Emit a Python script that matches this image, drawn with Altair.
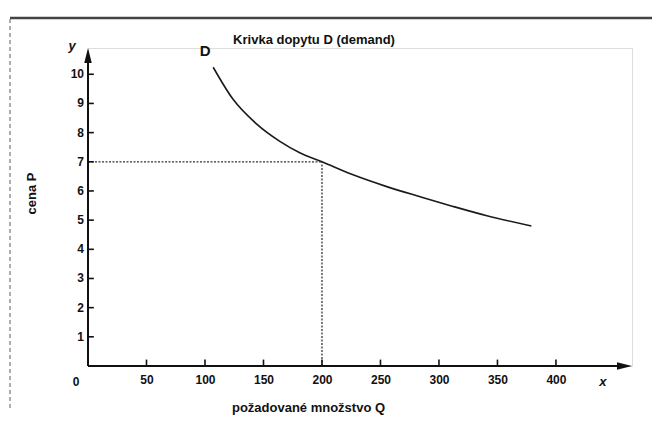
import altair as alt
import pandas as pd

# demand curve
quantity = [107, 124, 144, 164, 181, 200, 226, 256, 284, 312, 341, 379]
price = [10.24, 9.14, 8.30, 7.70, 7.31, 7.00, 6.56, 6.14, 5.80, 5.47, 5.15, 4.80]

x_ticks = [50, 100, 150, 200, 250, 300, 350, 400]
y_ticks = [1, 2, 3, 4, 5, 6, 7, 8, 9, 10]
point_q = 200
point_p = 7
x_max = 465
y_max = 10.9

title_text = "Krivka dopytu D (demand)"
x_title = "požadované množstvo Q"
y_title = "cena P"

FONT = "Liberation Sans, Arial, sans-serif"
INK = "#111111"

curve_df = pd.DataFrame({"q": quantity, "p": price})

xs = alt.Scale(domain=[0, x_max], nice=False, zero=True)
ys = alt.Scale(domain=[0, y_max], nice=False, zero=True)

x_axis = alt.Axis(
    values=x_ticks, title=x_title, domain=False, ticks=False, grid=False,
    labelOverlap=False, labelPadding=8, labelFont=FONT, labelFontSize=12,
    labelFontWeight="bold", labelColor=INK, titleFont=FONT, titleFontSize=13,
    titleFontWeight="bold", titleColor=INK, titleX=220, titleY=41,
    titleBaseline="middle", titleAnchor="middle", titleAlign="center",
)
y_axis = alt.Axis(
    values=y_ticks, title=y_title, domain=False, ticks=False, grid=False,
    labels=False, titleFont=FONT, titleFontSize=13, titleFontWeight="bold",
    titleColor=INK, titleX=-57, titleY=145, titleAngle=270,
    titleBaseline="middle", titleAlign="center",
)

curve = alt.Chart(curve_df).mark_line(
    color="#1a1a1a", strokeWidth=1.6, interpolate="monotone"
).encode(
    x=alt.X("q:Q", scale=xs, axis=x_axis),
    y=alt.Y("p:Q", scale=ys, axis=y_axis),
)

first_df = pd.DataFrame({"q": [quantity[0]], "p": [price[0]], "t": ["D"]})
d_label = alt.Chart(first_df).mark_text(
    font=FONT, fontSize=15, fontWeight="bold", color=INK, dx=-8, dy=-16
).encode(x="q:Q", y="p:Q", text="t:N")

# dotted guides
h_df = pd.DataFrame({"q0": [0], "q1": [point_q], "p": [point_p]})
h_guide = alt.Chart(h_df).mark_rule(
    color="#333333", strokeWidth=1.3, strokeDash=[2, 1.5]
).encode(x="q0:Q", x2="q1:Q", y="p:Q")
v_df = pd.DataFrame({"q": [point_q], "p0": [0], "p1": [point_p]})
v_guide = alt.Chart(v_df).mark_rule(
    color="#333333", strokeWidth=1.3, strokeDash=[2, 1.5]
).encode(x="q:Q", y="p0:Q", y2="p1:Q")

# axis lines
xa_df = pd.DataFrame({"q0": [0], "q1": [x_max - 6], "p": [0]})
x_line = alt.Chart(xa_df).mark_rule(color=INK, strokeWidth=2.2).encode(
    x="q0:Q", x2="q1:Q", y="p:Q")
ya_df = pd.DataFrame({"q": [0], "p0": [0], "p1": [y_max - 0.3]})
y_line = alt.Chart(ya_df).mark_rule(color=INK, strokeWidth=2).encode(
    x="q:Q", y="p0:Q", y2="p1:Q")

# arrow heads
up_df = pd.DataFrame({"q": [0], "p": [y_max]})
up_arrow = alt.Chart(up_df).mark_point(
    shape="M0,0L-0.5,2L0.5,2Z", size=225, filled=True, color=INK, opacity=1
).encode(x="q:Q", y="p:Q")
right_df = pd.DataFrame({"q": [x_max], "p": [0]})
right_arrow = alt.Chart(right_df).mark_point(
    shape="M0,0L-2,-0.5L-2,0.5Z", size=225, filled=True, color=INK, opacity=1
).encode(x="q:Q", y="p:Q")

# inward tick marks
xt_df = pd.DataFrame({"q": x_ticks, "p0": [0] * len(x_ticks), "p1": [0.22] * len(x_ticks)})
x_tick_marks = alt.Chart(xt_df).mark_rule(color=INK, strokeWidth=1.6).encode(
    x="q:Q", y="p0:Q", y2="p1:Q")
yt_df = pd.DataFrame({"p": y_ticks, "q0": [0] * len(y_ticks), "q1": [5] * len(y_ticks),
                      "t": [str(v) for v in y_ticks]})
y_tick_marks = alt.Chart(yt_df).mark_rule(color=INK, strokeWidth=1.6).encode(
    x="q0:Q", x2="q1:Q", y="p:Q")
y_tick_labels = alt.Chart(yt_df).mark_text(
    font=FONT, fontSize=12, fontWeight="bold", color=INK, align="right",
    baseline="middle", dx=-4,
).encode(x="q0:Q", y="p:Q", text="t:N")

# corner labels
zero_df = pd.DataFrame({"q": [0], "p": [0], "t": ["0"]})
zero_label = alt.Chart(zero_df).mark_text(
    font=FONT, fontSize=12, fontWeight="bold", color=INK, dx=-12, dy=16
).encode(x="q:Q", y="p:Q", text="t:N")
xl_df = pd.DataFrame({"q": [440], "p": [0], "t": ["x"]})
x_letter = alt.Chart(xl_df).mark_text(
    font=FONT, fontSize=13, fontStyle="italic", fontWeight="bold", color=INK, dy=16
).encode(x="q:Q", y="p:Q", text="t:N")
yl_df = pd.DataFrame({"q": [0], "p": [y_max], "t": ["y"]})
y_letter = alt.Chart(yl_df).mark_text(
    font=FONT, fontSize=13, fontStyle="italic", fontWeight="bold", color=INK, dx=-16, dy=-2
).encode(x="q:Q", y="p:Q", text="t:N")

# chart title, placed above the plot area
title_mark = alt.Chart(pd.DataFrame({"t": [title_text]})).mark_text(
    font=FONT, fontSize=13, fontWeight="bold", color=INK, baseline="middle",
    align="center",
).encode(x=alt.value(226), y=alt.value(-8), text="t:N")

# scanned page frame (decoration)
frame_top = alt.Chart(pd.DataFrame({"a": [0]})).mark_rule(
    color="#444444", strokeWidth=2.5
).encode(x=alt.value(-78), x2=alt.value(564), y=alt.value(-30))
frame_left = alt.Chart(pd.DataFrame({"a": [0]})).mark_rule(
    color="#777777", strokeWidth=1.2, strokeDash=[4, 3]
).encode(x=alt.value(-78), y=alt.value(-29), y2=alt.value(362))

chart = alt.layer(
    curve, frame_top, frame_left, h_guide, v_guide, x_line, y_line,
    up_arrow, right_arrow, x_tick_marks, y_tick_marks, y_tick_labels, d_label,
    zero_label, x_letter, y_letter, title_mark,
).properties(
    width=544, height=318,
    padding={"left": 80, "top": 40, "right": 20, "bottom": 52},
    autosize=alt.AutoSizeParams(type="none"),
).configure_view(stroke=None).configure(background="white")

chart.save("out.html", embed_options={"renderer": "svg", "actions": False})
